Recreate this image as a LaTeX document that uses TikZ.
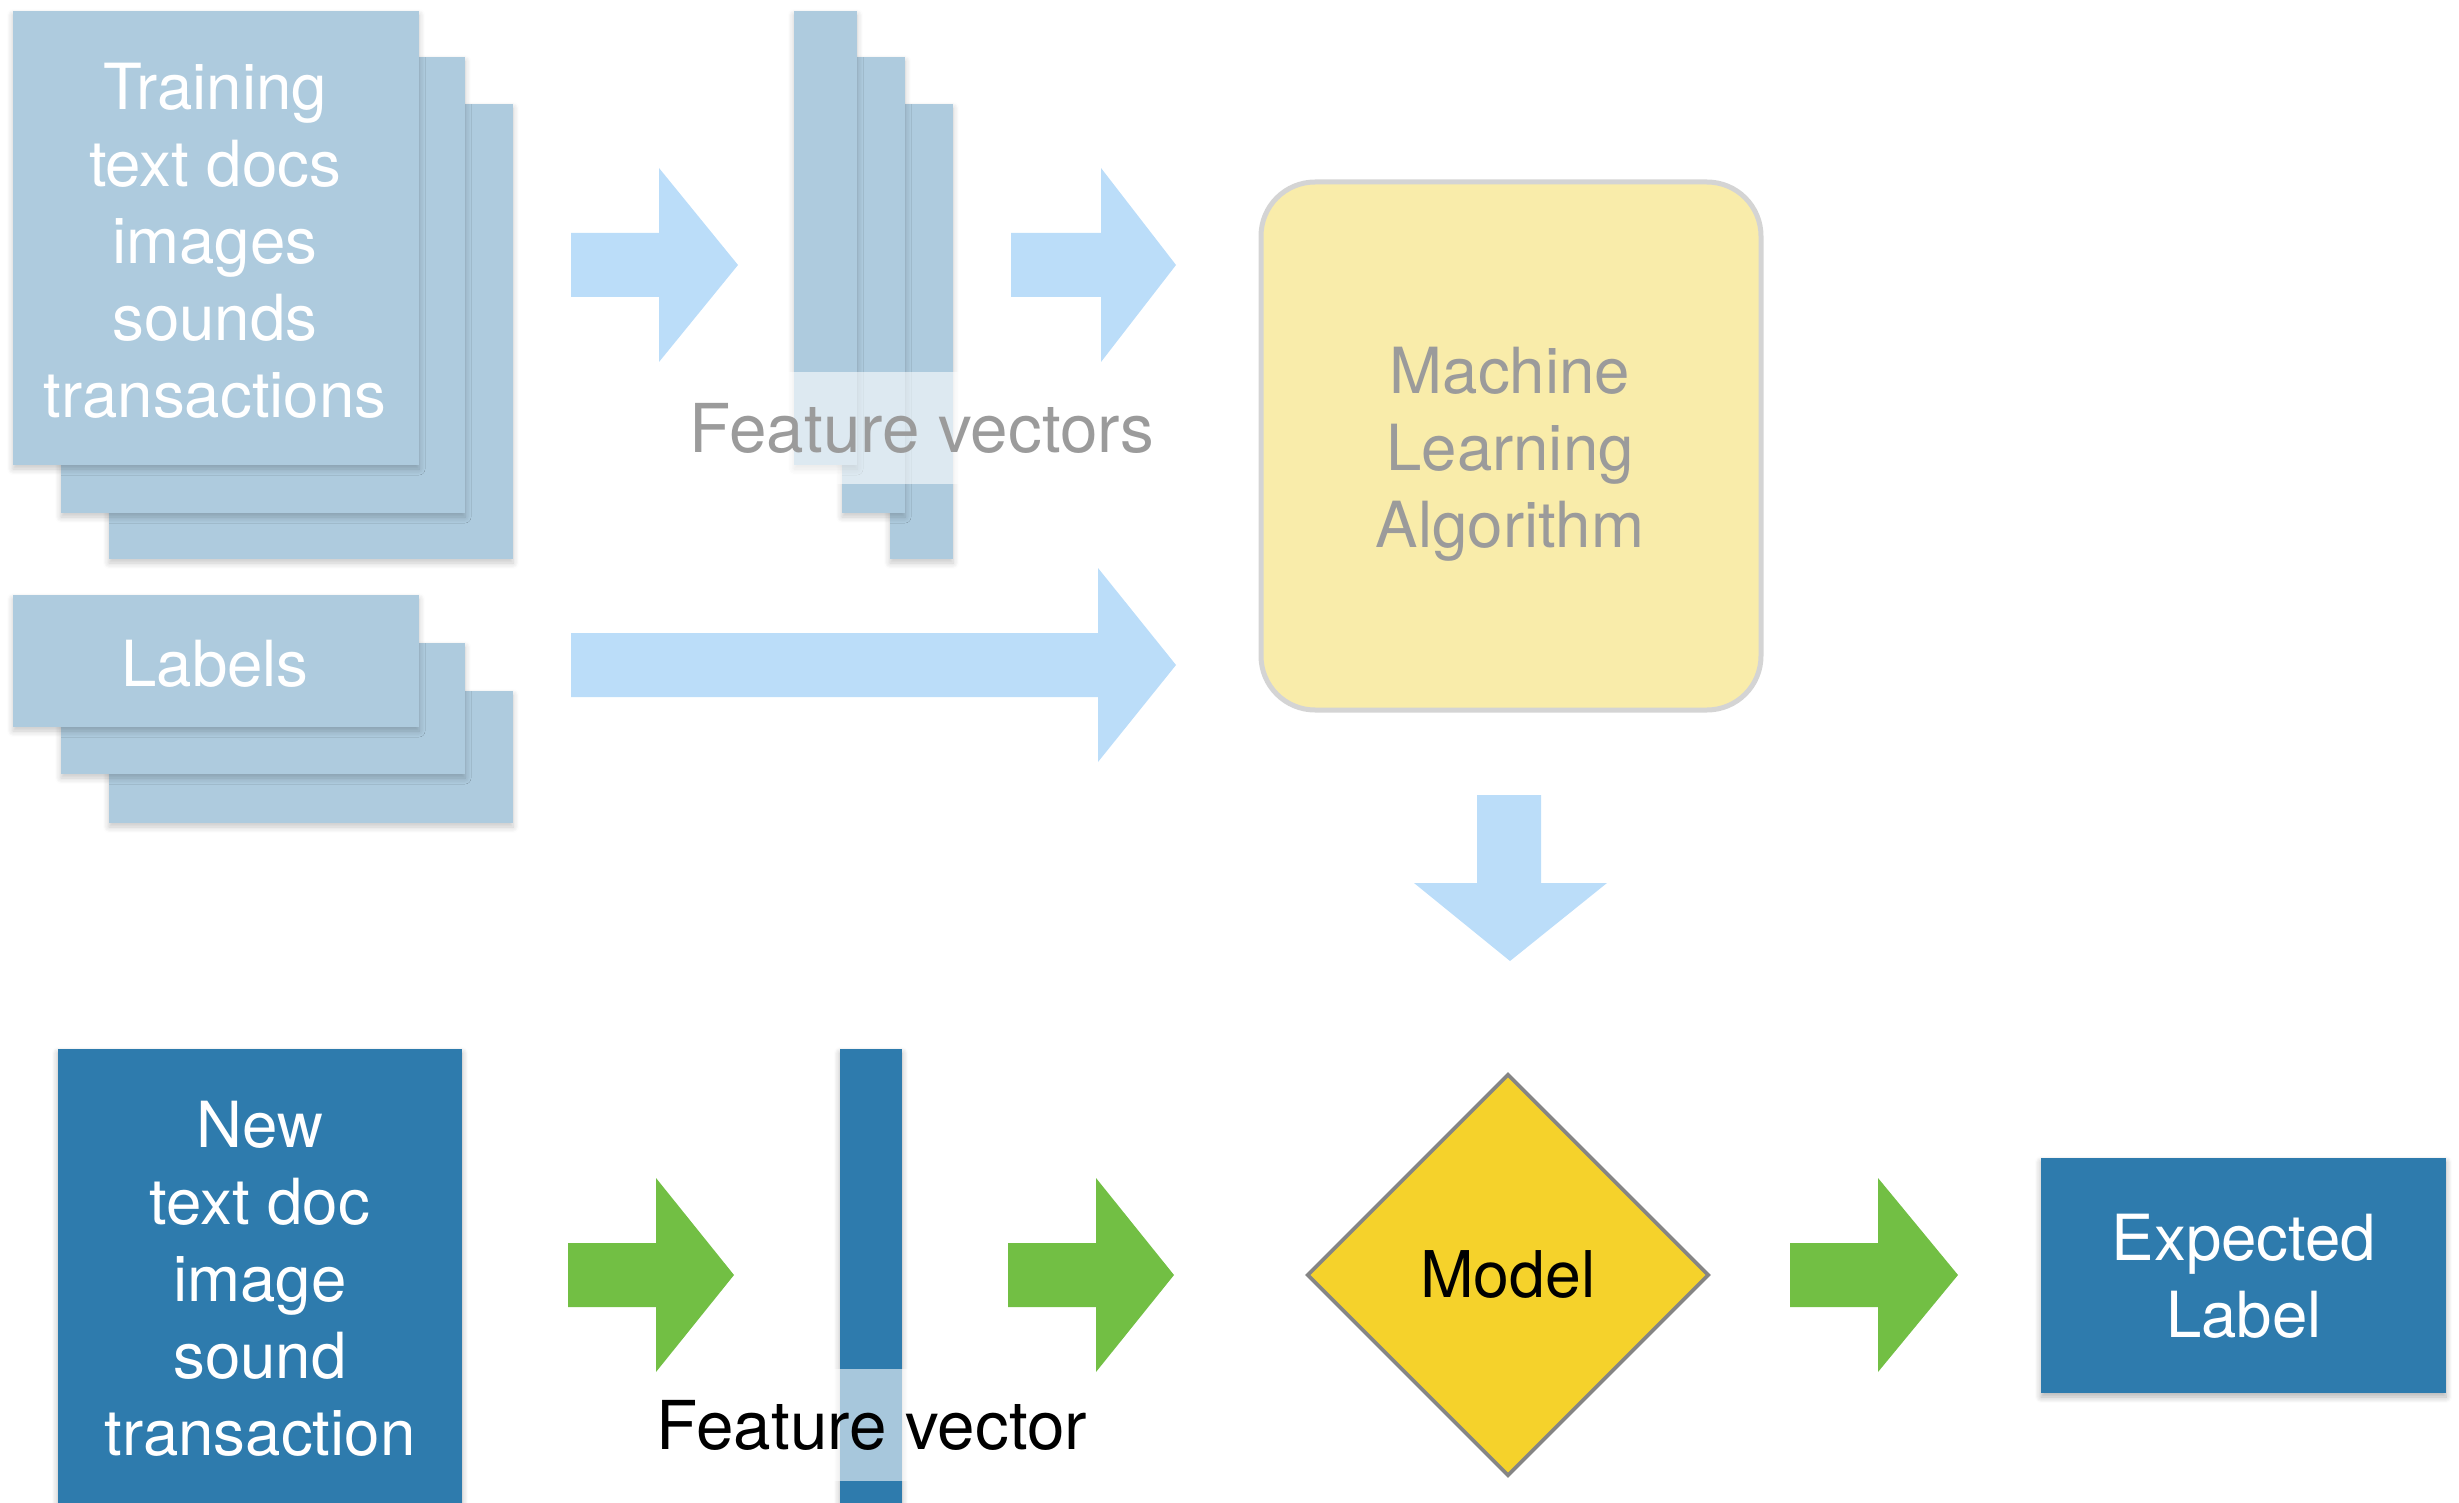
\documentclass[tikz,border=0pt]{standalone}
\usepackage{fontspec}
\setmainfont{TeX Gyre Heros}
\usetikzlibrary{fit,shadows.blur,shapes.geometric}
\definecolor{sheetc}{HTML}{AECBDE}
\definecolor{lightarr}{HTML}{BBDDF9}
\definecolor{darkblue}{HTML}{2E7BAD}
\definecolor{greenarr}{HTML}{72BF44}
\definecolor{mlafill}{HTML}{F9ECAA}
\definecolor{mlaborder}{HTML}{D4D4D4}
\definecolor{modelfill}{HTML}{F5D22B}
\definecolor{modelborder}{HTML}{858585}
\definecolor{graytxt}{HTML}{9B9B9B}
\newcommand\hblock[5]{\fill[#1] (#2,{#5-32}) -- (#3,{#5-32}) -- (#3,{#5-97}) -- (#4,#5) -- (#3,{#5+97}) -- (#3,{#5+32}) -- (#2,{#5+32}) -- cycle;}
\tikzset{
  sheet/.style={fill=sheetc, inner sep=0pt, draw=none,
    blur shadow={shadow xshift=0pt, shadow yshift=-2pt, shadow blur radius=3pt, shadow blur steps=6, shadow opacity=22}},
  darkbox/.style={fill=darkblue, inner sep=0pt, draw=none,
    blur shadow={shadow xshift=0pt, shadow yshift=-2pt, shadow blur radius=3pt, shadow blur steps=6, shadow opacity=30}},
  lbl/.style={font=\fontsize{31.8pt}{38.5pt}\selectfont, align=center, inner sep=0pt},
  wtxt/.style={lbl, text=white},
  gtxt/.style={lbl, text=graytxt},
  band/.style={lbl, font=\fontsize{33.7pt}{40pt}\selectfont, fill=white, fill opacity=0.58, text opacity=1, minimum height=56pt, inner xsep=6pt},
  mla/.style={fill=mlafill, draw=mlaborder, line width=2.5pt, rounded corners=27pt, inner sep=0pt},
  model/.style={diamond, aspect=1, fill=modelfill, draw=modelborder, line width=1.8pt,
    minimum width=201pt, minimum height=201pt, inner sep=0pt, font=\fontsize{32.2pt}{38.5pt}\selectfont},
  lightarrow/.style={fill=lightarr},
  greenarrow/.style={fill=greenarr}
}
\begin{document}
\begin{tikzpicture}[x=0.5pt,y=-0.5pt]
\useasboundingbox (0,0) rectangle (2459,1503);
\clip (0,0) rectangle (2459,1503);
% training sheets
\node[sheet, fit={(109,104)(513,559)}] (tr3) {};
\node[sheet, fit={(61,57)(465,513)}] (tr2) {};
\node[sheet, fit={(13,11)(419,465)}] (tr1) {};
\node[wtxt, anchor=base] (trtxt) at (215,417) {Training\\text docs\\images\\sounds\\transactions};
% label sheets
\node[sheet, fit={(109,691)(513,823)}] (lb3) {};
\node[sheet, fit={(61,643)(465,774)}] (lb2) {};
\node[sheet, fit={(13,595)(419,727)}] (lb1) {};
\node[wtxt, anchor=base] (lbtxt) at (215,686) {Labels};
% feature vector columns
\node[sheet, fit={(890,104)(953,559)}] (fv3) {};
\node[sheet, fit={(842,57)(905,513)}] (fv2) {};
\node[sheet, fit={(794,11)(857,465)}] (fv1) {};
\node[band, text=graytxt] (fvtxt) at (922,428) {Feature vectors};
% machine learning algorithm
\node[mla, fit={(1261,182)(1761,710)}] (mla) {};
\node[gtxt, anchor=base] (mlatxt) at (1510,547) {Machine\\Learning\\Algorithm};
% top arrows
\hblock{lightarrow}{571}{659}{738}{265}
\hblock{lightarrow}{1011}{1101}{1176}{265}
\hblock{lightarrow}{571}{1098}{1176}{665}
% down arrow
\fill[lightarrow] (1477,795) -- (1541,795) -- (1541,883) -- (1607,883) -- (1510,961) -- (1414,883) -- (1477,883) -- cycle;
% bottom row
\node[darkbox, fit={(58,1049)(462,1540)}] (newdoc) {};
\node[wtxt, anchor=base] (newtxt) at (260,1455) {New\\text doc\\image\\sound\\transaction};
\node[darkbox, fit={(840,1049)(902,1540)}] (fvb) {};
\node[band, text=black] (fvbtxt) at (872,1425) {Feature vector};
\node[model] (model) at (1508,1275) {Model};
\node[darkbox, fit={(2041,1158)(2446,1393)}] (expected) {};
\node[wtxt, anchor=base] (exptxt) at (2244,1337) {Expected\\Label};
% green arrows
\hblock{greenarrow}{568}{656}{734}{1275}
\hblock{greenarrow}{1008}{1096}{1174}{1275}
\hblock{greenarrow}{1790}{1878}{1958}{1275}
\end{tikzpicture}
\end{document}
